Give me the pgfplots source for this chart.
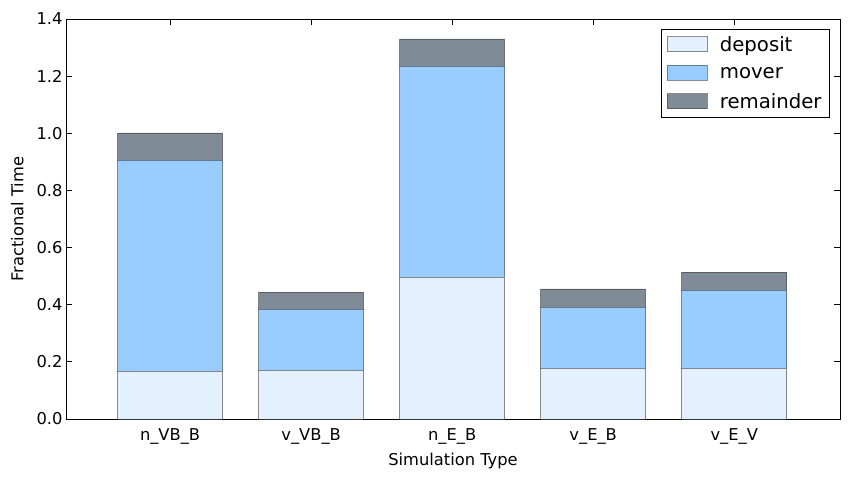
\documentclass[border=0pt]{standalone}
\usepackage{pgfplots}
\pgfplotsset{compat=1.18}
\usepackage{fontspec}
\setmainfont{DejaVu Sans}
\definecolor{cdep}{HTML}{E3F1FE}
\definecolor{cmov}{HTML}{99CCFF}
\definecolor{crem}{HTML}{7F8B97}
\begin{document}
\begin{tikzpicture}
\begin{axis}[
  scale only axis, width=774bp, height=400bp,
  ybar stacked, bar width=0.745,
  xmin=-0.738, xmax=4.75, ymin=0, ymax=1.4,
  xtick={0,1,2,3,4},
  xticklabels={n\_VB\_B,v\_VB\_B,n\_E\_B,v\_E\_B,v\_E\_V},
  ytick={0,0.2,...,1.4},
  yticklabel style={/pgf/number format/.cd,fixed,fixed zerofill,precision=1},
  /pgf/number format/assume math mode=true,
  tick align=inside, major tick length=6bp,
  tick style={black, line width=0.8pt},
  axis line style={line width=0.9pt},
  ticklabel style={font=\fontsize{16.3bp}{19bp}\selectfont},
  xticklabel style={yshift=-6bp},
  label style={font=\fontsize{16.3bp}{19bp}\selectfont},
  xlabel={Simulation Type}, ylabel={Fractional Time},
  xlabel style={yshift=-2bp}, ylabel style={yshift=6bp},
  legend style={at={(0.987,0.975)}, anchor=north east, draw=black, line width=0.8pt,
    font=\fontsize{19.7bp}{23bp}\selectfont, row sep=10bp, inner xsep=6bp, inner ysep=5bp},
  legend image code/.code={\draw[#1, line width=0.8pt] (0bp,-7bp) rectangle (40bp,8bp);},
  legend cell align=left,
  every axis plot/.append style={draw=black!75, draw opacity=0.6, line width=0.8pt},
]
\addplot[fill=cdep] coordinates {(0,0.168) (1,0.171) (2,0.497) (3,0.178) (4,0.178)};
\addlegendentry{\hspace{10bp}deposit}
\addplot[fill=cmov] coordinates {(0,0.738) (1,0.214) (2,0.738) (3,0.214) (4,0.273)};
\addlegendentry{\hspace{10bp}mover}
\addplot[fill=crem] coordinates {(0,0.095) (1,0.059) (2,0.095) (3,0.063) (4,0.063)};
\addlegendentry{\hspace{10bp}remainder}
\end{axis}
\path (current axis.south west) ++(-66bp,-58bp) rectangle ++(849bp,477bp);
\end{tikzpicture}
\end{document}
